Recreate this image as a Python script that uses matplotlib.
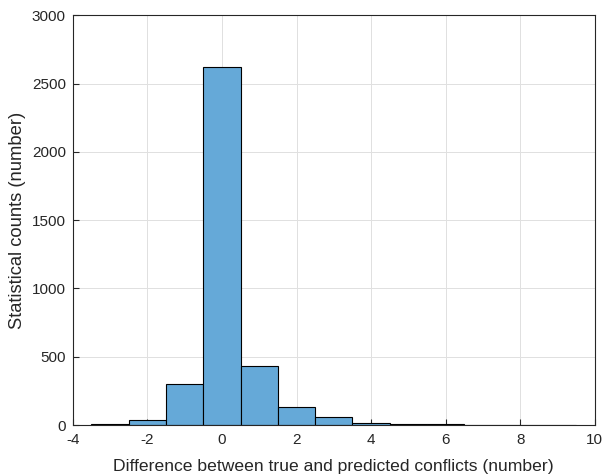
import matplotlib.pyplot as plt
import numpy as np

plt.rcParams['font.family'] = ['Liberation Sans', 'DejaVu Sans']
plt.rcParams['axes.unicode_minus'] = False

# histogram bins (integer differences) and counts
bin_centers = [-3, -2, -1, 0, 1, 2, 3, 4, 5, 6, 7, 8, 9]
counts = [5, 40, 298, 2618, 430, 130, 57, 12, 10, 8, 4, 3, 2]

edges = np.append(np.array(bin_centers) - 0.5, bin_centers[-1] + 0.5)

fig = plt.figure(figsize=(6.02, 4.76), dpi=100)
ax = fig.add_axes([0.121, 0.107, 0.867, 0.861])

ax.hist(bin_centers, bins=edges, weights=counts, color='#65a9d8',
        edgecolor='black', linewidth=0.8, zorder=2)

ax.set_xlim(-4, 10)
ax.set_ylim(0, 3000)
ax.set_xticks(np.arange(-4, 11, 2))
ax.set_yticks(np.arange(0, 3001, 500))
ax.grid(True, color='#e0e0e0', linewidth=0.7, zorder=0)
ax.set_axisbelow(True)
ax.tick_params(direction='in', length=4, labelsize=11, colors='#262626')
ax.tick_params(axis='x', pad=6)
ax.tick_params(axis='y', pad=5)
for s in ax.spines.values():
    s.set_color('#262626')
    s.set_linewidth(0.8)

ax.set_xlabel('Difference between true and predicted conflicts (number)',
              fontsize=12.6, color='#262626', labelpad=8)
ax.set_ylabel('Statistical counts (number)', fontsize=13.2, color='#262626', labelpad=4)

fig.savefig('out.png', dpi=100)
